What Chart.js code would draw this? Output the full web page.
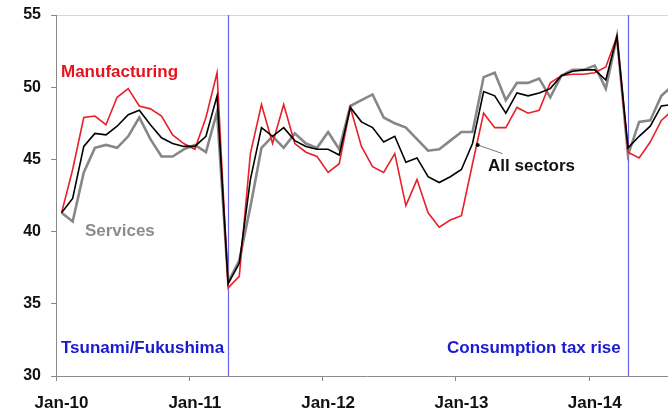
<!DOCTYPE html>
<html>
<head>
<meta charset="UTF-8">
<title>Japan PMI</title>
<script src="https://cdn.jsdelivr.net/npm/chart.js@4.4.1/dist/chart.umd.min.js"></script>
<style>
  html, body { margin: 0; padding: 0; overflow: hidden; background: #fff; }
  #wrap { width: 678px; height: 411px; }
</style>
</head>
<body>
<div id="wrap"><canvas id="chart" width="678" height="411"></canvas></div>
<script>
// monthly, Jan-10 .. Aug-14 (last one is cut off by the frame)
var years = ['10', '11', '12', '13', '14'];
var monthNames = ['Jan','Feb','Mar','Apr','May','Jun','Jul','Aug','Sep','Oct','Nov','Dec'];
var months = [];
years.forEach(function (y) {
  monthNames.forEach(function (m) { months.push(m + '-' + y); });
});
months = months.slice(0, 56);

var manufacturing = [
  41.3, 44.3, 47.9, 48.0, 47.4, 49.3, 49.9, 48.7, 48.5, 48.0, 46.7, 46.1,
  45.7, 47.9, 51.0, 36.1, 36.9, 45.4, 48.8, 46.1, 48.8, 46.1, 45.5, 45.2,
  44.1, 44.7, 48.6, 45.9, 44.5, 44.1, 45.4, 41.8, 43.6, 41.3, 40.3, 40.8,
  41.1, 44.7, 48.2, 47.2, 47.2, 48.6, 48.2, 48.4, 50.3, 50.8, 50.9, 50.9,
  51.0, 51.4, 53.5, 45.5, 45.1, 46.2, 47.7, 48.4
];
var allSectors = [
  41.3, 42.3, 45.9, 46.8, 46.7, 47.3, 48.1, 48.4, 47.4, 46.5, 46.1, 45.9,
  45.9, 46.6, 49.4, 36.4, 37.8, 43.6, 47.2, 46.6, 47.2, 46.3, 45.9, 45.7,
  45.7, 45.3, 48.6, 47.6, 47.2, 46.2, 46.6, 44.8, 45.1, 43.8, 43.4, 43.8,
  44.3, 46.1, 49.7, 49.4, 48.2, 49.6, 49.4, 49.6, 49.9, 50.8, 51.1, 51.2,
  51.2, 50.5, 53.5, 45.8, 46.6, 47.3, 48.7, 48.8
];
var services = [
  41.3, 40.7, 44.1, 45.8, 46.0, 45.8, 46.6, 47.9, 46.4, 45.2, 45.2, 45.7,
  46.0, 45.5, 48.3, 36.5, 38.0, 41.7, 45.8, 46.6, 45.8, 46.8, 46.1, 45.8,
  46.9, 45.7, 48.7, 49.1, 49.5, 47.9, 47.5, 47.2, 46.4, 45.6, 45.7, 46.3,
  46.9, 46.9, 50.7, 51.0, 49.1, 50.3, 50.3, 50.6, 49.3, 50.8, 51.2, 51.2,
  51.5, 49.9, 53.5, 45.3, 47.6, 47.7, 49.4, 50.1
];
var yTicks = [30, 35, 40, 45, 50, 55];

// events marked with a vertical line
var events = [
  { month: 'Apr-11', text: 'Tsunami/Fukushima', at: -0.05 },
  { month: 'Apr-14', text: 'Consumption tax rise', at: 34.7 }
];

// series labels placed in data units (index, value)
var notes = [
  { text: 'Manufacturing', x: -0.05, y: 51.05, color: '#e4141e' },
  { text: 'Services', x: 2.1, y: 40.05, color: '#8c8c8c' },
  { text: 'All sectors', x: 38.4, y: 44.55, color: '#111111' }
];

var eventPlugin = {
  id: 'events',
  beforeDatasetsDraw: function (chart) {
    var c = chart.ctx, xs = chart.scales.x, area = chart.chartArea;
    c.save();
    c.strokeStyle = '#6464f0';
    c.lineWidth = 1.2;
    events.forEach(function (e) {
      var x = Math.round(xs.getPixelForValue(months.indexOf(e.month))) + 0.5;
      c.beginPath();
      c.moveTo(x, area.top);
      c.lineTo(x, area.bottom);
      c.stroke();
    });
    c.restore();
  },
  afterDatasetsDraw: function (chart) {
    var c = chart.ctx, xs = chart.scales.x, ys = chart.scales.y;
    c.save();
    c.font = 'bold 17px "Liberation Sans", Arial, sans-serif';
    c.textBaseline = 'middle';
    c.textAlign = 'left';
    notes.forEach(function (n) {
      c.fillStyle = n.color;
      c.fillText(n.text, xs.getPixelForValue(n.x), ys.getPixelForValue(n.y));
    });
    c.fillStyle = '#1a1ad0';
    events.forEach(function (e) {
      c.fillText(e.text, xs.getPixelForValue(e.at), ys.getPixelForValue(31.9));
    });
    // leader for "All sectors"
    var x1 = xs.getPixelForValue(37.46), y1 = ys.getPixelForValue(46.0);
    var x2 = xs.getPixelForValue(39.7), y2 = ys.getPixelForValue(45.4);
    c.strokeStyle = '#777';
    c.lineWidth = 1;
    c.beginPath();
    c.moveTo(x1, y1);
    c.lineTo(x2, y2);
    c.stroke();
    c.fillStyle = '#000';
    c.beginPath();
    c.arc(x1, y1, 2, 0, Math.PI * 2);
    c.fill();
    c.restore();
  }
};

var tickFont = { family: '"Liberation Sans", Arial, sans-serif', size: 17, weight: 'bold' };
var yFont = { family: '"Liberation Sans", Arial, sans-serif', size: 16, weight: 'bold' };

new Chart(document.getElementById('chart').getContext('2d'), {
  type: 'line',
  data: {
    labels: months,
    datasets: [
      { label: 'All sectors', data: allSectors, borderColor: '#000000', borderWidth: 1.6, order: 0 },
      { label: 'Manufacturing', data: manufacturing, borderColor: '#e8202a', borderWidth: 1.6, order: 1 },
      { label: 'Services', data: services, borderColor: '#878787', borderWidth: 2.6, order: 2 }
    ]
  },
  options: {
    responsive: false,
    animation: false,
    layout: { padding: { top: 15, left: 0, right: 0, bottom: 0 } },
    elements: { point: { radius: 0 }, line: { tension: 0, fill: false } },
    plugins: { legend: { display: false }, tooltip: { enabled: false } },
    scales: {
      x: {
        offset: true,
        grid: {
          offset: true,
          drawOnChartArea: false,
          tickLength: 5,
          color: 'transparent',
          tickColor: function (ctx) {
            var m = months[ctx.index];
            return m && m.indexOf('Jan') === 0 ? '#888' : 'transparent';
          }
        },
        border: { color: '#8a8a8a', width: 1 },
        ticks: {
          autoSkip: false,
          maxRotation: 0,
          padding: 12,
          color: '#111',
          font: tickFont,
          callback: function (v, i) {
            return months[i].indexOf('Jan') === 0 ? months[i] : '';
          }
        },
        afterFit: function (s) {
          s.height = 35;
          s.paddingLeft = 0;
          s.paddingRight = 0;
        }
      },
      y: {
        min: 30,
        max: 55,
        afterBuildTicks: function (s) {
          s.ticks = yTicks.map(function (v) { return { value: v }; });
        },
        grid: {
          color: function (ctx) { return ctx.tick && ctx.tick.value === 55 ? '#d6d6d6' : 'transparent'; },
          tickColor: '#888',
          tickLength: 5
        },
        border: { color: '#8a8a8a', width: 1 },
        ticks: { padding: 10, color: '#111', font: yFont },
        afterFit: function (s) {
          s.width = 56;
          s.paddingTop = 0;
          s.paddingBottom = 0;
        }
      }
    }
  },
  plugins: [eventPlugin]
});
</script>
</body>
</html>
